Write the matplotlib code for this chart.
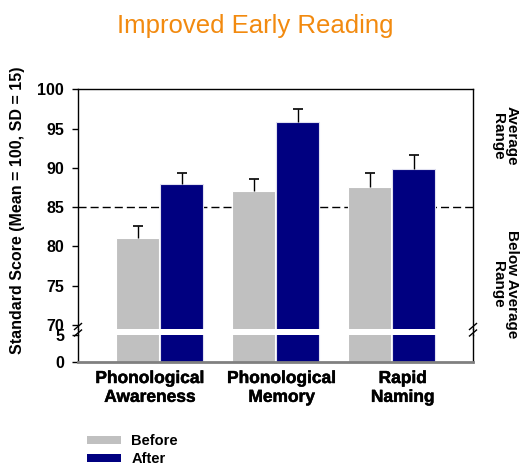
import matplotlib
matplotlib.use("Agg")
import matplotlib.pyplot as plt
import matplotlib.patheffects as pe
from matplotlib.lines import Line2D
from matplotlib.patches import Patch
import numpy as np

categories = ["Phonological\nAwareness", "Phonological\nMemory", "Rapid\nNaming"]
before = [81.1, 87.0, 87.6]
after = [88.0, 95.8, 89.8]
before_err = [1.5, 1.6, 1.8]
after_err = [1.4, 1.7, 1.9]
upper_ticks = [70, 75, 80, 85, 90, 95, 100]
lower_ticks = [0, 5]
threshold = 85

C_BEFORE = "#C0C0C0"
C_AFTER = "#000080"

W, H = 522, 467
fig = plt.figure(figsize=(W / 100, H / 100), dpi=100)

def fy(py):
    return 1 - py / H

def fx(px):
    return px / W

L, R = 78, 473
top_t, top_b = 89.3, 329
bot_t, bot_b = 335, 362

ax_top = fig.add_axes([fx(L), fy(top_b), fx(R - L), (top_b - top_t) / H])
ax_bot = fig.add_axes([fx(L), fy(bot_b), fx(R - L), (bot_b - bot_t) / H])

x = np.arange(len(categories))
w = 0.37
off = 0.19

for ax in (ax_top, ax_bot):
    ax.bar(x - off, before, w, color=C_BEFORE, edgecolor="white", linewidth=0.8, zorder=2)
    ax.bar(x + off, after, w, color=C_AFTER, edgecolor="#E0E0F0", linewidth=0.8, zorder=2)
    ax.set_xlim(-0.705, 2.70)
    ax.tick_params(axis="x", length=0, labelbottom=False)
    ax.tick_params(axis="y", direction="out", length=4, width=1, colors="black",
                   labelsize=11.5, pad=6)

# upper-only error bars with caps
for xs, vals, errs in ((x - off, before, before_err), (x + off, after, after_err)):
    tops = np.array(vals) + np.array(errs)
    ax_top.vlines(xs, vals, tops, color="black", lw=1, zorder=3)
    ax_top.plot(xs, tops, ls="none", marker="_", markersize=7, mew=1.2,
                color="black", zorder=3)

ax_top.axhline(threshold, color="black", lw=1, dashes=(5.8, 2.9), zorder=1)

ax_top.set_ylim(69.5, 100)
ax_top.set_yticks(upper_ticks)
ax_top.set_yticklabels([str(t) for t in upper_ticks], fontweight="bold",
                       fontfamily="Liberation Sans")
ax_top.spines["bottom"].set_visible(False)
for s in ("left", "right", "top"):
    ax_top.spines[s].set_color("black")
    ax_top.spines[s].set_linewidth(1)

ax_bot.set_ylim(0, 5)
ax_bot.set_yticks(lower_ticks)
ax_bot.set_yticklabels([str(t) for t in lower_ticks], fontweight="bold",
                       fontfamily="Liberation Sans")
ax_bot.spines["top"].set_visible(False)
for s in ("left", "right"):
    ax_bot.spines[s].set_color("black")
    ax_bot.spines[s].set_linewidth(1)
ax_bot.spines["bottom"].set_color("#808080")
ax_bot.spines["bottom"].set_linewidth(2)

# spine continuation across the break and break marks
for px in (L, R):
    fig.add_artist(Line2D([fx(px), fx(px)], [fy(top_b), fy(bot_t)], color="black", lw=1,
                          transform=fig.transFigure))
    for py in (326.5, 333):
        fig.add_artist(Line2D([fx(px - 3.5), fx(px + 3.5)], [fy(py + 3), fy(py - 3)],
                              color="black", lw=1, transform=fig.transFigure))

heavy = [pe.withStroke(linewidth=0.35, foreground="black")]

# category labels (slightly offset from group centres, as in the original)
label_shift = [-0.085, 0.05, 0.095]
for xi, sh, cat in zip(x, label_shift, categories):
    disp = ax_bot.transData.transform((xi + sh, 0))
    fxi = fig.transFigure.inverted().transform(disp)[0]
    fig.text(fxi, fy(371), cat, ha="center", va="top", fontsize=12.5, fontweight="bold",
             family="Liberation Sans", linespacing=1.32, path_effects=heavy)

# title
fig.text(fx(255), fy(33), "Improved Early Reading", ha="center", va="baseline",
         fontsize=18.5, color="#F28A0F", family=["Liberation Sans Narrow", "Liberation Sans"])

# y label
fig.text(fx(18), fy(210), "Standard Score (Mean = 100, SD = 15)", rotation=90,
         ha="center", va="center", fontsize=11.5, fontweight="bold",
         family="Liberation Sans")

# right side range labels
fig.text(fx(505), fy(136), "Average\nRange", rotation=270, ha="center", va="center",
         fontsize=11, fontweight="bold", family="Liberation Sans", linespacing=1.0)
fig.text(fx(505), fy(284), "Below Average\nRange", rotation=270, ha="center", va="center",
         fontsize=11, fontweight="bold", family="Liberation Sans", linespacing=1.0)

# legend
handles = [Patch(facecolor=C_BEFORE, edgecolor="none", label="Before"),
           Patch(facecolor=C_AFTER, edgecolor="none", label="After")]
leg = fig.legend(handles=handles, loc="upper left", bbox_to_anchor=(fx(87), fy(434)),
                 frameon=False, prop={"family": "Liberation Sans", "weight": "bold", "size": 10.5},
                 handlelength=2.3, handleheight=0.45, handletextpad=0.75, labelspacing=0.3,
                 borderaxespad=0, borderpad=0)

fig.savefig("out.png", dpi=100)
